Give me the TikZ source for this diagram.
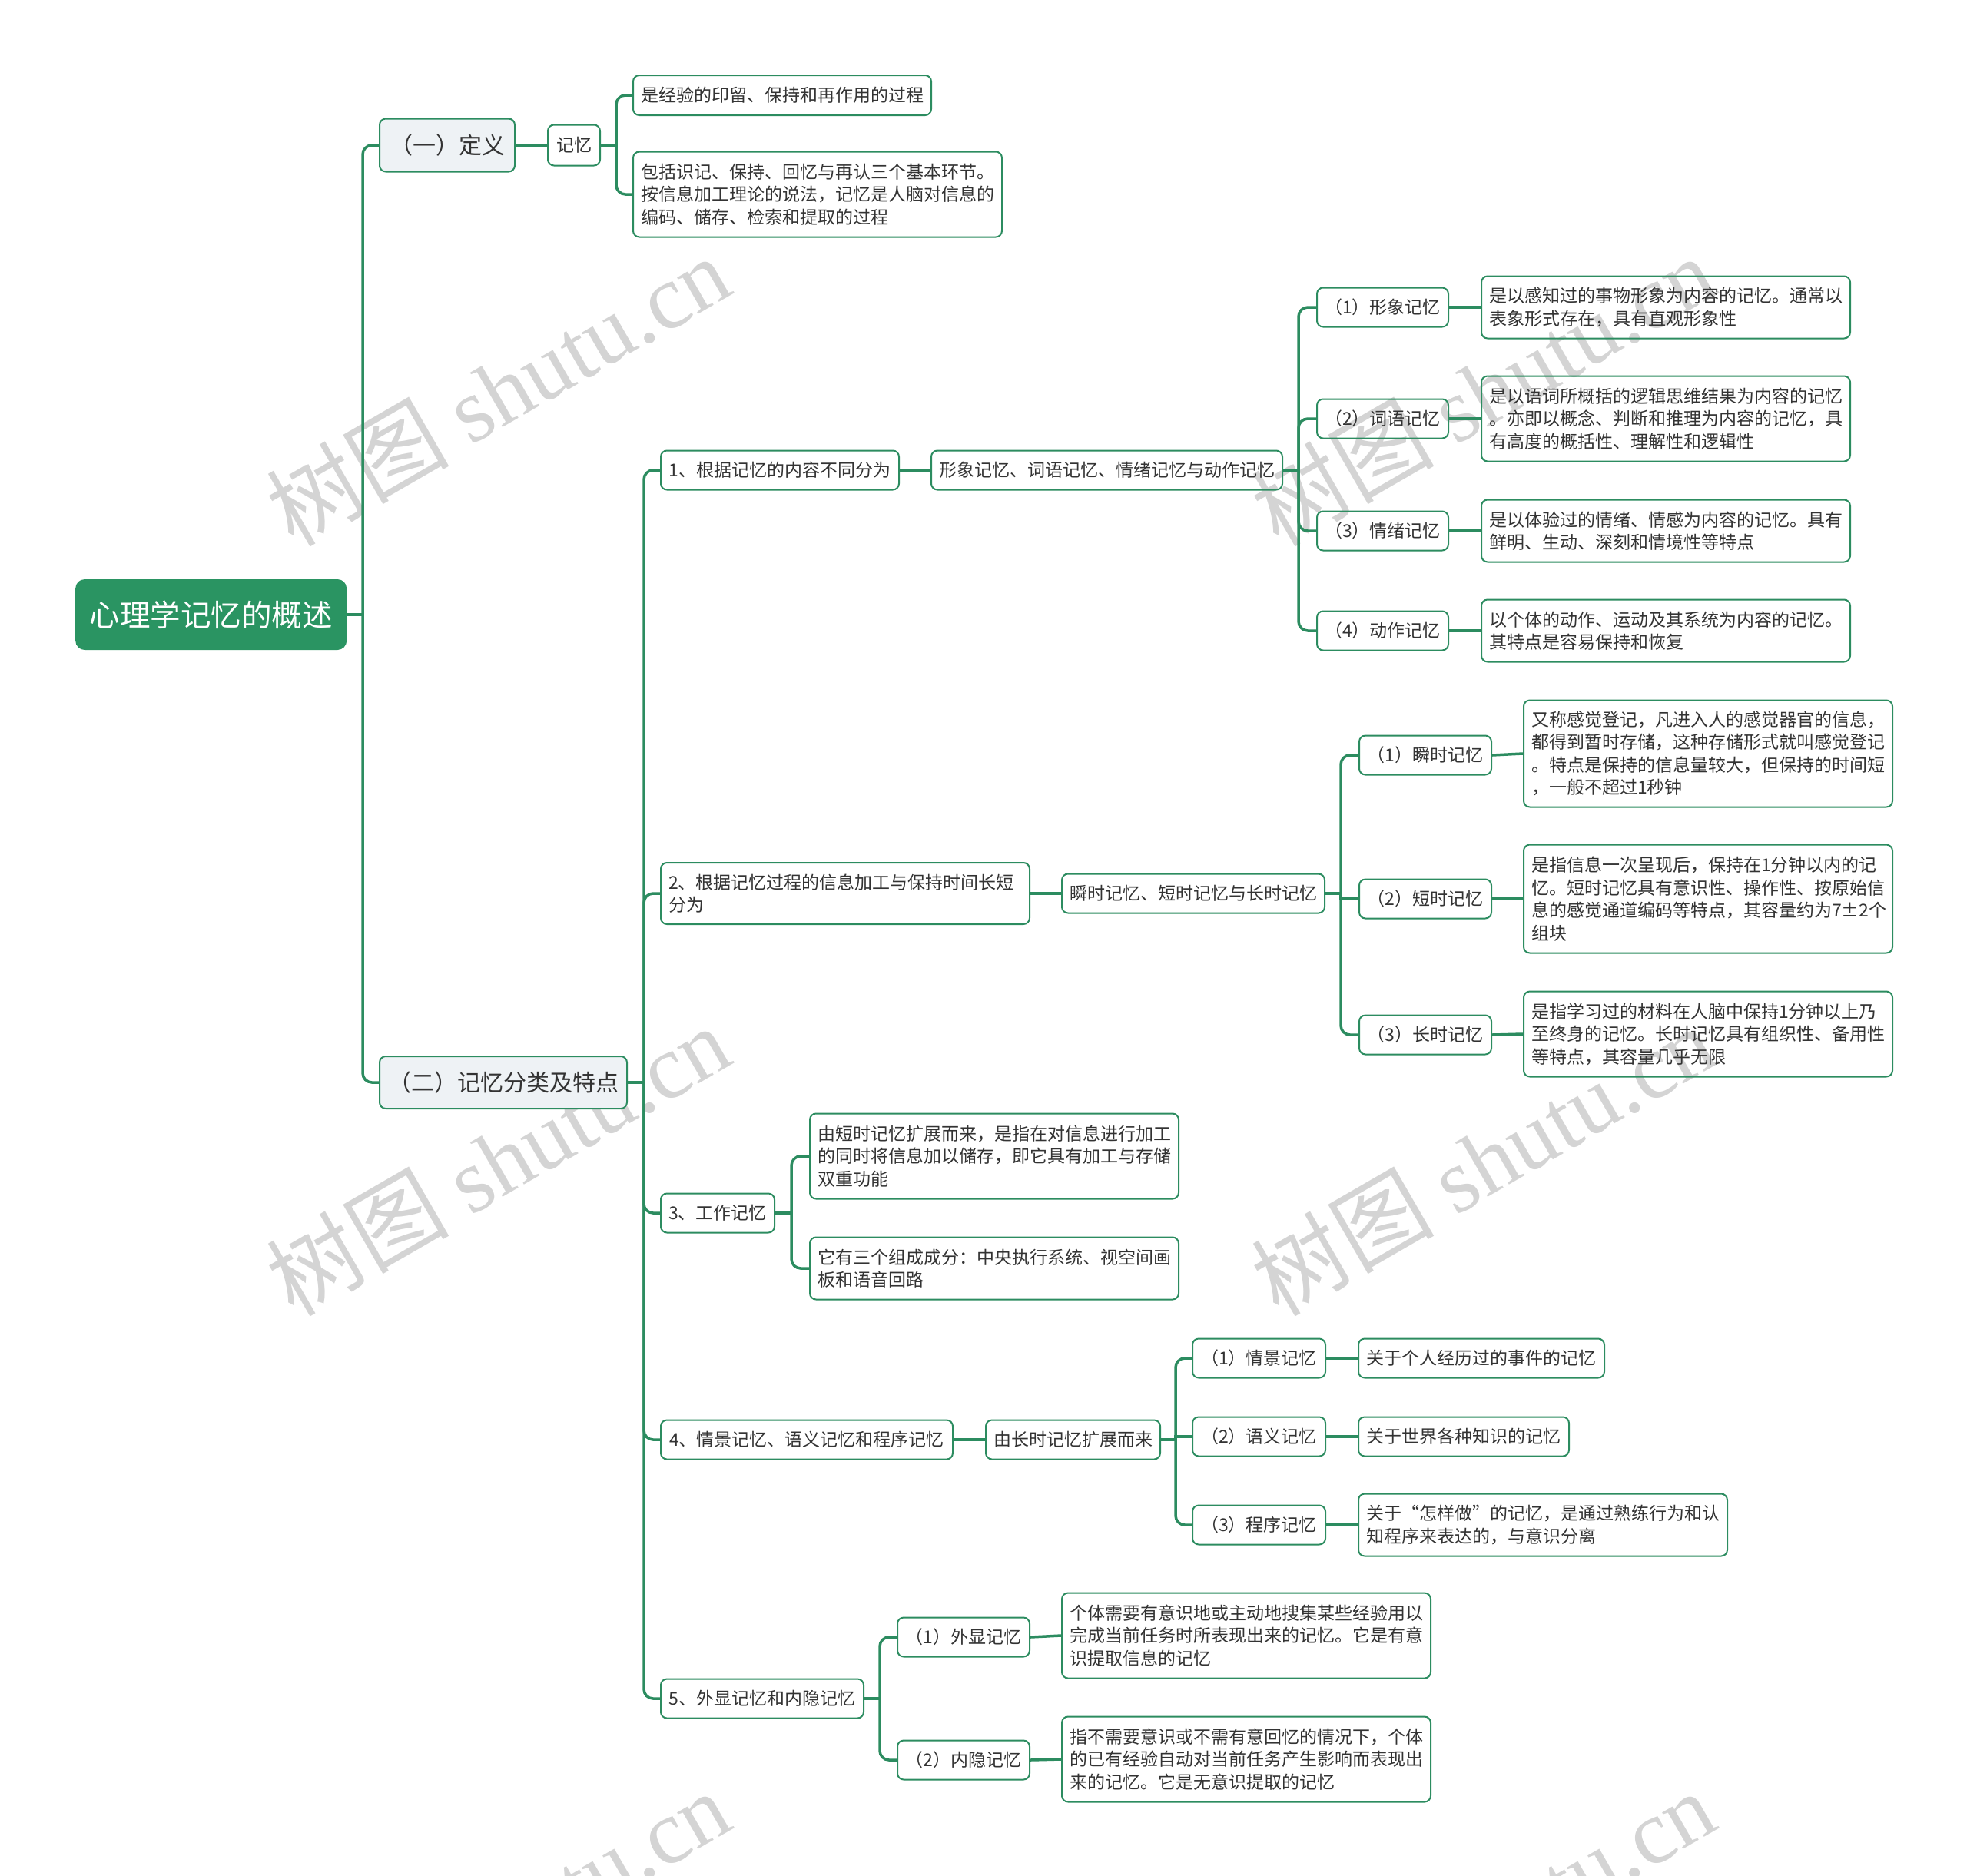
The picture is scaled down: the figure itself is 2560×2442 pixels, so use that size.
\documentclass[tikz,border=0pt]{standalone}
\usepackage{fontspec}
\setmainfont{Noto Sans CJK SC}
\newfontfamily\wmlatin{Liberation Serif}
\usetikzlibrary{calc}
\definecolor{lg}{HTML}{2C8C60}
\definecolor{rootg}{HTML}{2A9462}
\definecolor{lvl}{HTML}{EEF2F5}
\definecolor{txt}{HTML}{333333}
\definecolor{wm}{HTML}{D4D4D4}
\tikzset{
  base/.style={draw=lg, line width=2pt, rounded corners=8pt, text=txt, inner xsep=10pt, inner ysep=3pt, anchor=west, font=\fontsize{23}{29.5}\selectfont},
  one/.style={base, minimum height=51pt, align=center},
  multi/.style={base, align=left, text width=460pt},
  lvone/.style={base, fill=lvl, font=\fontsize{30}{36}\selectfont, align=center},
  rootbox/.style={fill=rootg, draw=none, rounded corners=12pt, text=white, font=\fontsize{39.5}{44}\selectfont, anchor=west, minimum width=353pt, minimum height=92pt},
  conn/.style={draw=lg, line width=3.5pt},
  branch/.style={conn, rounded corners=12pt},
  wmark/.style={text=wm, rotate=30, font=\fontsize{119}{119}\selectfont, inner sep=0pt}
}
\begin{document}
\begin{tikzpicture}[x=1pt, y=-1pt]
\useasboundingbox (0,0) rectangle (2560,2442);
% watermarks
\node[wmark] (w1) at (648,508) {树图 {\wmlatin shutu.cn}};
\node[wmark] (w2) at (1930,508) {树图 {\wmlatin shutu.cn}};
\node[wmark] (w3) at (648,1510) {树图 {\wmlatin shutu.cn}};
\node[wmark] (w4) at (1930,1510) {树图 {\wmlatin shutu.cn}};
\node[wmark] (w5) at (648,2506) {树图 {\wmlatin shutu.cn}};
\node[wmark] (w6) at (1930,2506) {树图 {\wmlatin shutu.cn}};

% root and level one
\node[rootbox] (root) at (98,800) {心理学记忆的概述};
\node[lvone, minimum width=176pt, minimum height=69pt] (d1) at (493,189) {（一）定义};
\node[lvone, minimum width=322pt, minimum height=68pt] (d2) at (493,1409) {（二）记忆分类及特点};

% definition branch
\node[one, minimum width=68pt, minimum height=53pt] (k) at (712,189) {记忆};
\node[one, minimum width=387pt, minimum height=52pt] (f1) at (823,124) {是经验的印留、保持和再作用的过程};
\node[multi, minimum height=111pt] (f2) at (823,253) {包括识记、保持、回忆与再认三个基本环节。\\按信息加工理论的说法，记忆是人脑对信息的\\编码、储存、检索和提取的过程};

% level two
\node[one, minimum width=310pt] (a1) at (859,612) {1、根据记忆的内容不同分为};
\node[multi, minimum height=80pt] (a2) at (859,1163) {2、根据记忆过程的信息加工与保持时间长短\\分为};
\node[one, minimum width=148pt] (a3) at (859,1579) {3、工作记忆};
\node[one, minimum width=380pt] (a4) at (859,1874) {4、情景记忆、语义记忆和程序记忆};
\node[one, minimum width=264pt] (a5) at (859,2211) {5、外显记忆和内隐记忆};

% branch 1
\node[one, minimum width=456pt] (b1) at (1211,612) {形象记忆、词语记忆、情绪记忆与动作记忆};
\node[one, minimum width=171pt] (c11) at (1713,400) {（1）形象记忆};
\node[one, minimum width=171pt] (c12) at (1713,545) {（2）词语记忆};
\node[one, minimum width=171pt] (c13) at (1713,691) {（3）情绪记忆};
\node[one, minimum width=171pt] (c14) at (1713,821) {（4）动作记忆};
\node[multi, minimum height=81pt] (e11) at (1927,400) {是以感知过的事物形象为内容的记忆。通常以\\表象形式存在，具有直观形象性};
\node[multi, minimum height=111pt] (e12) at (1927,545) {是以语词所概括的逻辑思维结果为内容的记忆\\。亦即以概念、判断和推理为内容的记忆，具\\有高度的概括性、理解性和逻辑性};
\node[multi, minimum height=81pt] (e13) at (1927,691) {是以体验过的情绪、情感为内容的记忆。具有\\鲜明、生动、深刻和情境性等特点};
\node[multi, minimum height=81pt] (e14) at (1927,821) {以个体的动作、运动及其系统为内容的记忆。\\其特点是容易保持和恢复};

% branch 2
\node[one, minimum width=341pt] (b2) at (1381,1163) {瞬时记忆、短时记忆与长时记忆};
\node[one, minimum width=172pt] (c21) at (1768,983) {（1）瞬时记忆};
\node[one, minimum width=172pt] (c22) at (1768,1170) {（2）短时记忆};
\node[one, minimum width=172pt] (c23) at (1768,1347) {（3）长时记忆};
\node[multi, minimum height=139pt] (e21) at (1982,981) {又称感觉登记，凡进入人的感觉器官的信息，\\都得到暂时存储，这种存储形式就叫感觉登记\\。特点是保持的信息量较大，但保持的时间短\\，一般不超过1秒钟};
\node[multi, minimum height=141pt] (e22) at (1982,1170) {是指信息一次呈现后，保持在1分钟以内的记\\忆。短时记忆具有意识性、操作性、按原始信\\息的感觉通道编码等特点，其容量约为7±2个\\组块};
\node[multi, minimum height=111pt] (e23) at (1982,1346) {是指学习过的材料在人脑中保持1分钟以上乃\\至终身的记忆。长时记忆具有组织性、备用性\\等特点，其容量几乎无限};

% branch 3
\node[multi, minimum height=111pt] (e31) at (1053,1505) {由短时记忆扩展而来，是指在对信息进行加工\\的同时将信息加以储存，即它具有加工与存储\\双重功能};
\node[multi, minimum height=81pt] (e32) at (1053,1651) {它有三个组成成分：中央执行系统、视空间画\\板和语音回路};

% branch 4
\node[one, minimum width=227pt] (b4) at (1282,1874) {由长时记忆扩展而来};
\node[one, minimum width=173pt] (c41) at (1551,1768) {（1）情景记忆};
\node[one, minimum width=173pt] (c42) at (1551,1870) {（2）语义记忆};
\node[one, minimum width=173pt] (c43) at (1551,1985) {（3）程序记忆};
\node[one, minimum width=320pt] (e41) at (1767,1768) {关于个人经历过的事件的记忆};
\node[one, minimum width=274pt] (e42) at (1767,1870) {关于世界各种知识的记忆};
\node[multi, minimum height=81pt] (e43) at (1767,1985) {关于“怎样做”的记忆，是通过熟练行为和认\\知程序来表达的，与意识分离};

% branch 5
\node[one, minimum width=172pt] (c51) at (1167,2131) {（1）外显记忆};
\node[one, minimum width=172pt] (c52) at (1167,2291) {（2）内隐记忆};
\node[multi, minimum height=111pt] (e51) at (1381,2129) {个体需要有意识地或主动地搜集某些经验用以\\完成当前任务时所表现出来的记忆。它是有意\\识提取信息的记忆};
\node[multi, minimum height=111pt] (e52) at (1381,2290) {指不需要意识或不需有意回忆的情况下，个体\\的已有经验自动对当前任务产生影响而表现出\\来的记忆。它是无意识提取的记忆};

% junction coordinates
\coordinate (jr) at (472,800);
\coordinate (jk) at (802,189);
\coordinate (jd2) at (838,1409);
\coordinate (jb1) at (1690,612);
\coordinate (jb2) at (1745,1163);
\coordinate (ja3) at (1030,1579);
\coordinate (jb4) at (1530,1874);
\coordinate (ja5) at (1145,2211);

% connectors
\draw[conn] (root.east) -- (jr);
\draw[branch] (jr) |- (d1.west);
\draw[branch] (jr) |- (d2.west);

\draw[conn] (d1.east) -- (k.west);
\draw[conn] (k.east) -- (jk);
\draw[branch] (jk) |- (f1.west);
\draw[branch] (jk) |- (f2.west);

\draw[conn] (d2.east) -- (jd2);
\foreach \c in {a1,a2,a3,a4,a5} \draw[branch] (jd2) |- (\c.west);

\draw[conn] (a1.east) -- (b1.west);
\draw[conn] (b1.east) -- (jb1);
\foreach \c in {c11,c12,c13,c14} \draw[branch] (jb1) |- (\c.west);
\draw[conn] (c11.east) -- (e11.west);
\draw[conn] (c12.east) -- (e12.west);
\draw[conn] (c13.east) -- (e13.west);
\draw[conn] (c14.east) -- (e14.west);

\draw[conn] (a2.east) -- (b2.west);
\draw[conn] (b2.east) -- (jb2);
\draw[branch] (jb2) |- (c21.west);
\draw[conn] (jb2) |- (c22.west);
\draw[branch] (jb2) |- (c23.west);
\draw[conn] (c21.east) -- (e21.west);
\draw[conn] (c22.east) -- (e22.west);
\draw[conn] (c23.east) -- (e23.west);

\draw[conn] (a3.east) -- (ja3);
\draw[branch] (ja3) |- (e31.west);
\draw[branch] (ja3) |- (e32.west);

\draw[conn] (a4.east) -- (b4.west);
\draw[conn] (b4.east) -- (jb4);
\draw[branch] (jb4) |- (c41.west);
\draw[conn] (jb4) |- (c42.west);
\draw[branch] (jb4) |- (c43.west);
\draw[conn] (c41.east) -- (e41.west);
\draw[conn] (c42.east) -- (e42.west);
\draw[conn] (c43.east) -- (e43.west);

\draw[conn] (a5.east) -- (ja5);
\draw[branch] (ja5) |- (c51.west);
\draw[branch] (ja5) |- (c52.west);
\draw[conn] (c51.east) -- (e51.west);
\draw[conn] (c52.east) -- (e52.west);
\end{tikzpicture}
\end{document}
